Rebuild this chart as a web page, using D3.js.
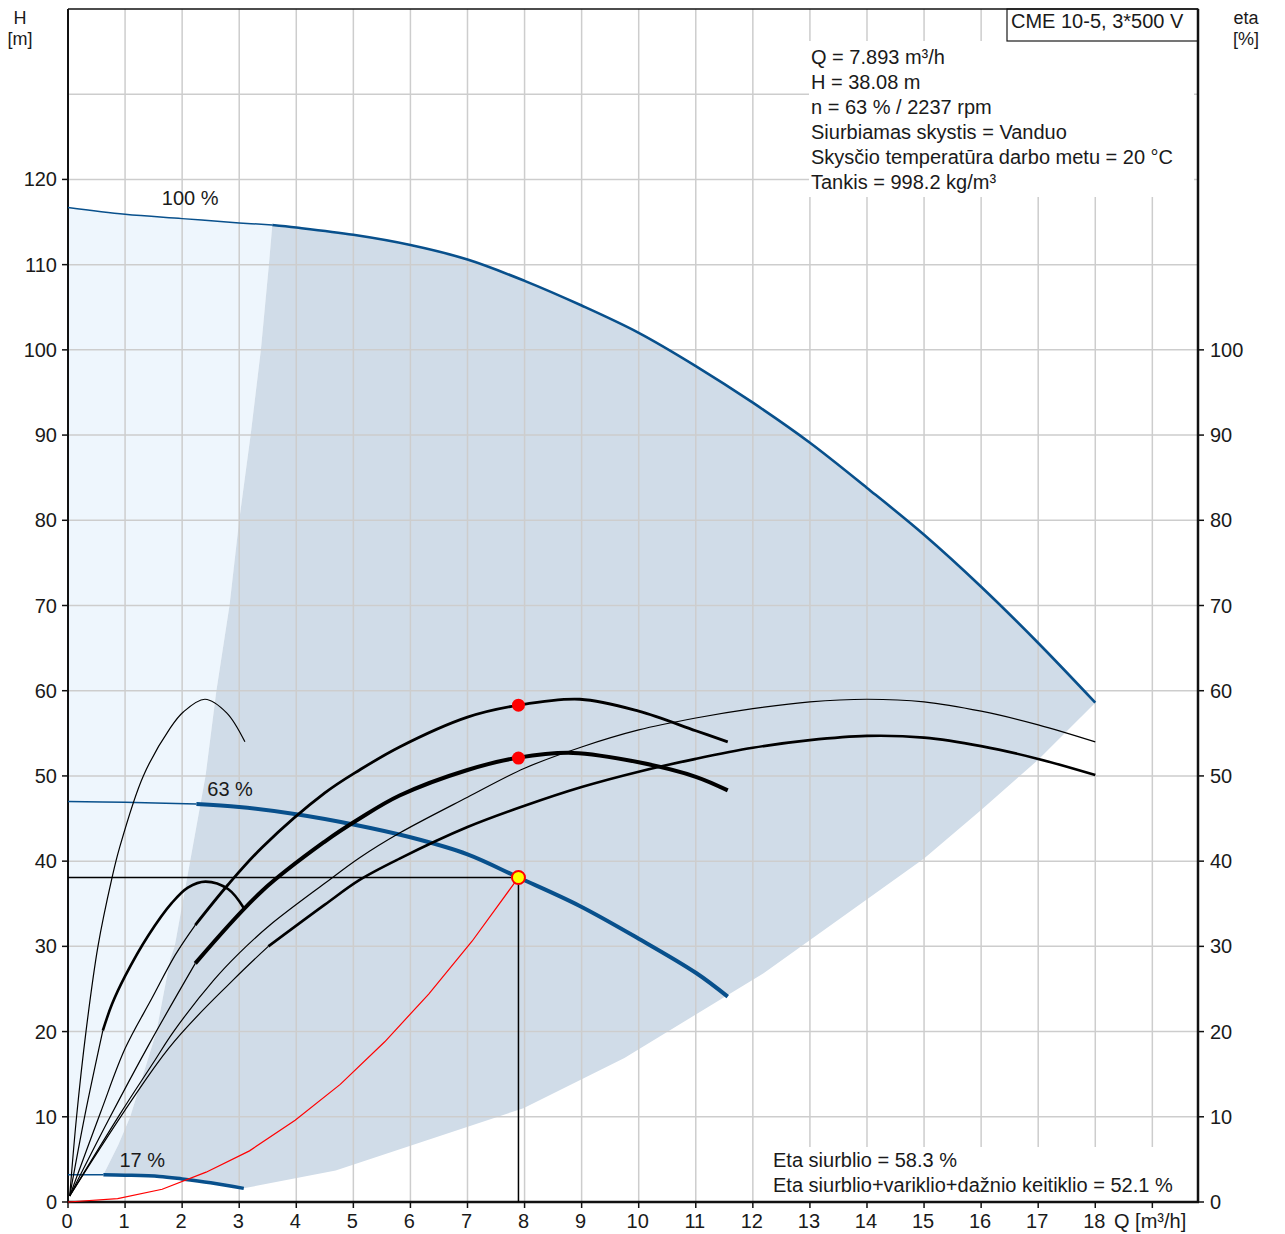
<!DOCTYPE html>
<html><head><meta charset="utf-8">
<script src="https://cdn.jsdelivr.net/npm/d3@7"></script>
<style>
body{margin:0;background:#fff}
svg{display:block}
text{font-family:"Liberation Sans",Arial,sans-serif;font-size:20px;fill:#1a1a1a}
text.unit{font-size:18px}
</style>
</head><body>
<svg id="c" width="1285" height="1234"></svg>
<script>
// ---------- DATA ----------
const xTickValues = [0,1,2,3,4,5,6,7,8,9,10,11,12,13,14,15,16,17,18,19];
const xTickLabels = ["0","1","2","3","4","5","6","7","8","9","10","11","12","13","14","15","16","17","18",""];
const hTickValues = [0,10,20,30,40,50,60,70,80,90,100,110,120];
const etaTickValues = [0,10,20,30,40,50,60,70,80,90,100];
const hGridValues = [10,20,30,40,50,60,70,80,90,100,110,120,130];

// QH curves [Q m3/h, H m]
const qh100 = [[0,116.7],[1,115.9],[2,115.4],[3,114.9],[3.58,114.65],[4,114.35],[5,113.5],[6,112.3],[7,110.6],[8,108.1],[9,105.2],[10,102.0],[11,98.1],[12,93.8],[13,89.1],[14,83.8],[15,78.3],[16,72.2],[17,65.6],[18,58.6]];
const qh63 = [[0,47.0],[1,46.9],[2.25,46.7],[3,46.35],[4,45.5],[5,44.3],[6,42.8],[7,40.8],[7.893,38.08],[8.95,34.8],[10,30.9],[11,26.9],[11.56,24.1]];
const qh17 = [[0,3.2],[0.62,3.2],[1.0,3.15],[1.6,3.0],[2.0,2.7],[2.5,2.25],[3.08,1.6]];
const qhThickFrom = {"100":3.58, "63":2.25, "17":0.62};

// operating range boundaries
const leftBound = [[0.62,3.2],[0.88,6.7],[1.09,10],[1.55,20],[1.79,28.5],[1.87,30],[2.14,40],[2.41,50],[2.6,60],[2.83,70],[3.0,80],[3.2,90],[3.38,100],[3.52,110],[3.58,114.65]];
const rightBound = [[18,58.6],[17,51.9],[16,46.0],[15,40.3],[12.2,26.9],[9.75,16.9],[7.98,11.0],[4.69,3.7],[3.08,1.6]];

// efficiency curves [Q, eta %]
const eta17p = [[0.03,0.7],[0.15,10],[0.315,20],[0.525,30],[0.77,38],[0.9,41.5],[1.32,50],[1.79,55.6],[2.02,57.5],[2.4,59.0],[2.78,57.4],[3.1,54.0]];
const eta17t = [[0.03,0.7],[0.3,10.3],[0.61,20.1],[0.77,23.2],[1.0,26.5],[1.41,31.3],[1.82,35.1],[2.1,36.9],[2.41,37.6],[2.81,36.7],[3.08,34.5]];
const eta63p = [[0.03,0.7],[0.57,10.5],[1.0,18],[1.47,23.9],[1.88,29.0],[2.23,32.5],[2.8,37.2],[3.4,41.6],[4.5,48.0],[5.11,50.7],[5.81,53.4],[7,56.9],[7.893,58.3],[8.97,59.0],[10,57.6],[11,55.3],[11.56,54.0]];
const eta63t = [[0.03,0.7],[0.7,9.5],[1.42,18.5],[2.23,28.0],[3.4,36.5],[4.5,42.3],[5.11,45.0],[5.81,47.7],[7,50.7],[7.893,52.15],[8.85,52.7],[10,51.6],[11,49.9],[11.56,48.3]];
const eta100p = [[0.03,0.7],[0.9,10.2],[1.5,16.4],[1.85,20],[2.55,26],[3.0,29.2],[3.54,32.5],[4.5,37.4],[5.11,40.4],[5.81,43.3],[7,47.5],[8,50.9],[9,53.4],[10,55.4],[11,56.8],[12,57.9],[13,58.7],[14,59.0],[15,58.7],[16,57.6],[17,56.0],[18,54.0]];
const eta100t = [[0.03,0.7],[1.76,18],[2.9,26.1],[3.51,30],[4.5,34.9],[5.11,37.8],[5.81,40.3],[7,44.0],[8,46.5],[9,48.7],[10,50.5],[11,52.0],[12,53.3],[13,54.2],[14,54.7],[15,54.5],[16,53.5],[17,52.0],[18,50.1]];

// system curve
const systemCurve = [[0,0],[0.87,0.4],[1.65,1.5],[2.42,3.5],[3.18,6.0],[3.98,9.6],[4.77,13.8],[5.55,18.8],[6.32,24.4],[7.08,30.6],[7.893,38.08]];

// duty point
const dutyQ = 7.893, dutyH = 38.08, dutyEtaPump = 58.3, dutyEtaTotal = 52.1;

const speedLabels = [["100 %",2.14,117.0],["63 %",2.84,47.6],["17 %",1.3,4.1]];
const infoLines = ["Q = 7.893 m³/h","H = 38.08 m","n = 63 % / 2237 rpm","Siurbiamas skystis = Vanduo","Skysčio temperatūra darbo metu = 20 °C","Tankis = 998.2 kg/m³"];
const etaLines = ["Eta siurblio = 58.3 %","Eta siurblio+variklio+dažnio keitiklio = 52.1 %"];
const title = "CME 10-5, 3*500 V";

// ---------- DRAW ----------
const svg = d3.select("#c");
const x = d3.scaleLinear().domain([0,19.8]).range([68,1198]);
const y = d3.scaleLinear().domain([0,140]).range([1202,9]);
const BLUE = "#08508c";

const smooth = d3.line().x(d=>x(d[0])).y(d=>y(d[1])).curve(d3.curveCatmullRom.alpha(0.5));
const lin = d3.line().x(d=>x(d[0])).y(d=>y(d[1]));
const Lto = pts => pts.map(d=>"L"+x(d[0])+","+y(d[1])).join("");

// regions
const thin100 = qh100.filter(d=>d[0]<=qhThickFrom["100"]);
const thick100 = qh100.filter(d=>d[0]>=qhThickFrom["100"]);
const thin17 = qh17.filter(d=>d[0]<=qhThickFrom["17"]);
const thick17 = qh17.filter(d=>d[0]>=qhThickFrom["17"]);

svg.append("path").attr("d", smooth(thin100) + Lto(leftBound.slice().reverse()) + Lto(thin17.slice().reverse()) + "Z").attr("fill","#eef6fd");
svg.append("path").attr("d", smooth(thick100) + Lto(rightBound) + Lto(thick17.slice().reverse()) + Lto(leftBound) + "Z").attr("fill","#d0dce8");

// grid
const g = svg.append("g").attr("stroke","#cdcdcd").attr("stroke-width",1.5);
g.selectAll(".vg").data(xTickValues.filter(v=>v>0)).join("line")
  .attr("x1",d=>x(d)).attr("x2",d=>x(d)).attr("y1",y(0)).attr("y2",9);
g.selectAll(".hg").data(hGridValues).join("line")
  .attr("x1",x(0)).attr("x2",1198).attr("y1",d=>y(d)).attr("y2",d=>y(d));

// white info boxes
svg.append("rect").attr("x",809).attr("y",41).attr("width",385).attr("height",156).attr("fill","#fff");
svg.append("rect").attr("x",768).attr("y",1147).attr("width",427).attr("height",54).attr("fill","#fff");
svg.append("rect").attr("x",1007).attr("y",9).attr("width",191).attr("height",32).attr("fill","#fff").attr("stroke","#1a1a1a").attr("stroke-width",1.2);
svg.append("text").attr("x",1011).attr("y",28).text(title);
infoLines.forEach((t,i)=>svg.append("text").attr("x",811).attr("y",64+25*i).text(t));
etaLines.forEach((t,i)=>svg.append("text").attr("x",773).attr("y",1167+25*i).text(t));

// frame & axes
svg.append("line").attr("x1",68).attr("x2",1198).attr("y1",9).attr("y2",9).attr("stroke","#111").attr("stroke-width",1.5);
svg.append("line").attr("x1",68).attr("x2",68).attr("y1",9).attr("y2",1202).attr("stroke","#111").attr("stroke-width",2);
svg.append("line").attr("x1",1198).attr("x2",1198).attr("y1",9).attr("y2",1202).attr("stroke","#111").attr("stroke-width",2.5);
svg.append("line").attr("x1",67).attr("x2",1199).attr("y1",1202).attr("y2",1202).attr("stroke","#111").attr("stroke-width",2.5);

const ax = svg.append("g");
ax.selectAll(".lt").data(hTickValues).join("line").attr("x1",62).attr("x2",68).attr("y1",d=>y(d)).attr("y2",d=>y(d)).attr("stroke","#111").attr("stroke-width",1.5);
ax.selectAll(".ll").data(hTickValues).join("text").attr("x",57).attr("y",d=>y(d)+7).attr("text-anchor","end").text(d=>d);
ax.selectAll(".rt").data(etaTickValues).join("line").attr("x1",1198).attr("x2",1204).attr("y1",d=>y(d)).attr("y2",d=>y(d)).attr("stroke","#111").attr("stroke-width",1.5);
ax.selectAll(".rl").data(etaTickValues).join("text").attr("x",1210).attr("y",d=>y(d)+7).text(d=>d);
ax.selectAll(".bt").data(xTickValues).join("line").attr("x1",d=>x(d)).attr("x2",d=>x(d)).attr("y1",1202).attr("y2",1208).attr("stroke","#111").attr("stroke-width",1.5);
ax.selectAll(".bl").data(xTickValues).join("text").attr("x",(d)=>x(d)-1).attr("y",1228).attr("text-anchor","middle").text((d,i)=>xTickLabels[i]);
svg.append("text").attr("x",1114).attr("y",1228).text("Q [m³/h]");
svg.append("text").attr("class","unit").attr("x",20).attr("y",24).attr("text-anchor","middle").text("H");
svg.append("text").attr("class","unit").attr("x",20).attr("y",45).attr("text-anchor","middle").text("[m]");
svg.append("text").attr("class","unit").attr("x",1246).attr("y",24).attr("text-anchor","middle").text("eta");
svg.append("text").attr("class","unit").attr("x",1246).attr("y",45).attr("text-anchor","middle").text("[%]");

// curves
function drawSplit(data, from, color, wThin, wThick){
  const a = data.filter(d=>d[0]<=from), b = data.filter(d=>d[0]>=from);
  if (a.length>1) svg.append("path").attr("d",smooth(a)).attr("fill","none").attr("stroke",color).attr("stroke-width",wThin);
  if (b.length>1) svg.append("path").attr("d",smooth(b)).attr("fill","none").attr("stroke",color).attr("stroke-width",wThick);
}
drawSplit(qh100, qhThickFrom["100"], BLUE, 1.5, 2.6);
drawSplit(qh63, qhThickFrom["63"], BLUE, 1.5, 4);
drawSplit(qh17, qhThickFrom["17"], BLUE, 1.5, 3.5);

drawSplit(eta17p, 99, "#000", 1.2, 1.2);
drawSplit(eta17t, 0.61, "#000", 1.2, 2.6);
drawSplit(eta63p, 2.23, "#000", 1.2, 2.8);
drawSplit(eta63t, 2.23, "#000", 1.2, 4);
drawSplit(eta100p, 99, "#000", 1.2, 1.2);
drawSplit(eta100t, 3.51, "#000", 1.2, 2.6);

// duty lines
svg.append("path").attr("d", lin([[0,dutyH],[dutyQ,dutyH],[dutyQ,0]])).attr("fill","none").attr("stroke","#000").attr("stroke-width",1.5);
// system curve
svg.append("path").attr("d", lin(systemCurve)).attr("fill","none").attr("stroke","#ff0000").attr("stroke-width",1.2);

// markers
svg.selectAll(".rd").data([dutyEtaPump,dutyEtaTotal]).join("circle")
  .attr("cx",x(dutyQ)).attr("cy",d=>y(d)).attr("r",6.5).attr("fill","#ff0000");
svg.append("circle").attr("cx",x(dutyQ)).attr("cy",y(dutyH)).attr("r",6.5).attr("fill","#ffff00").attr("stroke","#ff0000").attr("stroke-width",2);

// speed labels
speedLabels.forEach(l=>svg.append("text").attr("x",x(l[1])).attr("y",y(l[2])).attr("text-anchor","middle").text(l[0]));
</script>
</body></html>
